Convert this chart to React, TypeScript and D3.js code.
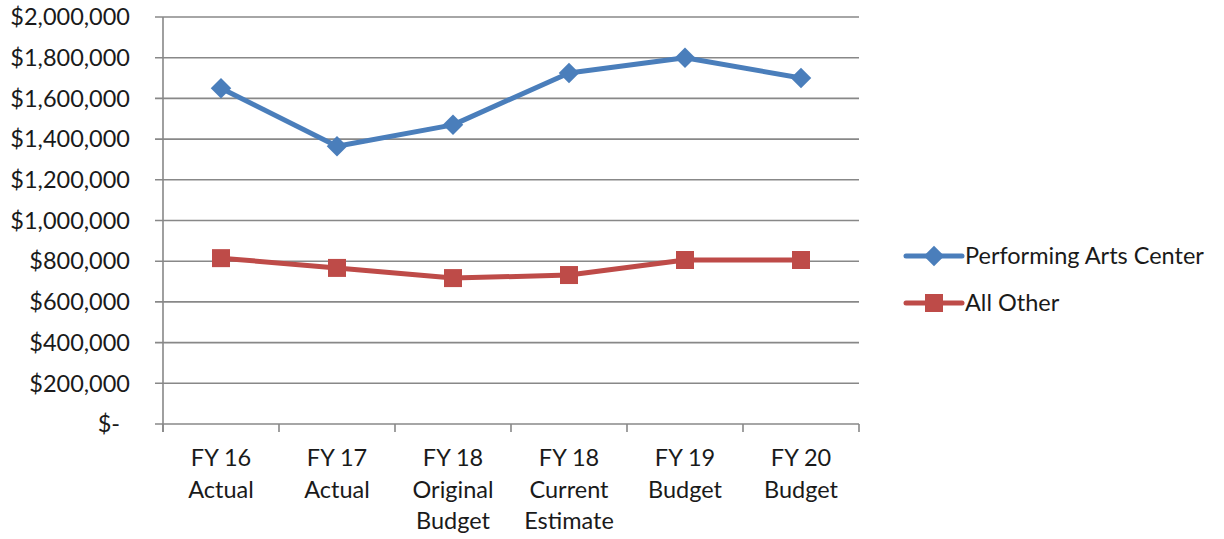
import React, { useRef, useEffect } from "react";
import * as d3 from "d3";

const categories: string[][] = [
  ["FY 16", "Actual"],
  ["FY 17", "Actual"],
  ["FY 18", "Original", "Budget"],
  ["FY 18", "Current", "Estimate"],
  ["FY 19", "Budget"],
  ["FY 20", "Budget"],
];
const performingArts = [1650000, 1365000, 1470000, 1725000, 1800000, 1700000];
const allOther = [815000, 767000, 717000, 732000, 806000, 806000];
const yTicks = [0, 200000, 400000, 600000, 800000, 1000000, 1200000, 1400000, 1600000, 1800000, 2000000];
const seriesNames = ["Performing Arts Center", "All Other"];

export default function App() {
  const ref = useRef<SVGSVGElement>(null);
  const width = 1224;
  const height = 539;
  const left = 163;
  const right = 859;
  const top = 17;
  const bottom = 424;
  const font = "Lato, 'Open Sans', sans-serif";
  const fs = 23.5;

  useEffect(() => {
    const svg = d3.select(ref.current);
    svg.selectAll("*").remove();

    const x = d3.scaleBand<number>()
      .domain(d3.range(categories.length))
      .range([left, right]);
    const y = d3.scaleLinear().domain([0, 2000000]).range([bottom, top]);

    //----------- gridlines ------------//
    svg.append("g")
      .selectAll("line")
      .data(yTicks)
      .join("line")
      .attr("x1", left - 8)
      .attr("x2", right)
      .attr("y1", d => y(d))
      .attr("y2", d => y(d))
      .attr("stroke", "#888")
      .attr("stroke-width", 1.6);

    // y axis line
    svg.append("line")
      .attr("x1", left).attr("x2", left)
      .attr("y1", top).attr("y2", bottom + 8)
      .attr("stroke", "#888").attr("stroke-width", 1.6);

    // category ticks
    svg.append("g")
      .selectAll("line")
      .data(d3.range(categories.length + 1))
      .join("line")
      .attr("x1", d => left + d * x.bandwidth())
      .attr("x2", d => left + d * x.bandwidth())
      .attr("y1", bottom)
      .attr("y2", bottom + 8)
      .attr("stroke", "#888").attr("stroke-width", 1.6);

    //----------- y labels ------------//
    const fmt = d3.format(",");
    svg.append("g")
      .selectAll("text")
      .data(yTicks)
      .join("text")
      .attr("x", d => (d === 0 ? 120 : 130))
      .attr("y", d => y(d))
      .attr("dy", "0.35em")
      .attr("text-anchor", "end")
      .attr("font-family", font)
      .attr("font-size", fs)
      .attr("fill", "#1a1a1a")
      .text(d => (d === 0 ? "$-" : "$" + fmt(d)));

    //----------- x labels ------------//
    const xl = svg.append("g")
      .selectAll("text")
      .data(categories)
      .join("text")
      .attr("x", (d, i) => x(i)! + x.bandwidth() / 2)
      .attr("y", 460)
      .attr("text-anchor", "middle")
      .attr("font-family", font)
      .attr("font-size", fs)
      .attr("fill", "#1a1a1a")
      .attr("dominant-baseline", "middle");
    xl.selectAll("tspan")
      .data(d => d)
      .join("tspan")
      .attr("x", function () {
        return (this as any).parentNode.getAttribute("x");
      })
      .attr("dy", (d, i) => (i === 0 ? 0 : 31.5))
      .text(d => d);

    //----------- lines ------------//
    const cx = (i: number) => x(i)! + x.bandwidth() / 2;
    const line = d3.line<number>().x((d, i) => cx(i)).y(d => y(d));
    const series = [
      { values: performingArts, color: "#4A7EBB", rot: 45, size: 210 },
      { values: allOther, color: "#BE4B48", rot: 0, size: 324 },
    ];
    const marker = d3.symbol().type(d3.symbolSquare);
    series.forEach(s => {
      svg.append("path")
        .attr("d", line(s.values)!)
        .attr("fill", "none")
        .attr("stroke", s.color)
        .attr("stroke-width", 5)
        .attr("stroke-linejoin", "round");
      svg.append("g")
        .selectAll("path")
        .data(s.values)
        .join("path")
        .attr("transform", (d, i) => `translate(${cx(i)},${y(d)}) rotate(${s.rot})`)
        .attr("d", marker.size(s.size)()!)
        .attr("fill", s.color);
    });

    //----------- legend ------------//
    const legend = svg.append("g")
      .selectAll("g")
      .data(series)
      .join("g")
      .attr("transform", (d, i) => `translate(906,${256 + i * 47})`);
    legend.append("line")
      .attr("x1", 0).attr("x2", 56)
      .attr("stroke", d => d.color)
      .attr("stroke-width", 5)
      .attr("stroke-linecap", "round");
    legend.append("path")
      .attr("transform", d => `translate(28,0) rotate(${d.rot})`)
      .attr("d", d => marker.size(d.size)()!)
      .attr("fill", d => d.color);
    legend.append("text")
      .attr("x", 59)
      .attr("dy", "0.35em")
      .attr("font-family", font)
      .attr("font-size", fs)
      .attr("fill", "#1a1a1a")
      .text((d, i) => seriesNames[i]);
  }, []);

  return (
    <svg ref={ref} width={width} height={height} style={{ position: "absolute", left: 0, top: 0, background: "white" }} />
  );
}
